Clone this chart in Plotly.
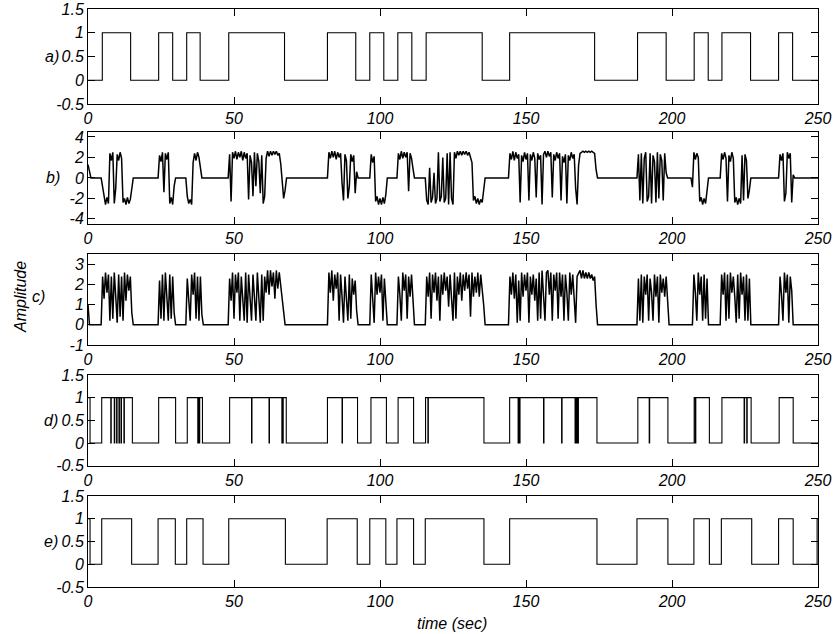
import plotly.graph_objects as go

# ---------------- data ----------------
x_ticks = [0, 50, 100, 150, 200, 250]
x_tick_text = ["0", "50", "100", "150", "200", "250"]

unit_ticks = [-0.5, 0, 0.5, 1, 1.5]
unit_tick_text = ["-0.5", "0", "0.5", "1", "1.5"]
b_ticks = [-4, -2, 0, 2, 4]
b_tick_text = ["-4", "-2", "0", "2", "4"]
c_ticks = [-1, 0, 1, 2, 3]
c_tick_text = ["-1", "0", "1", "2", "3"]

panel_labels = ["a)", "b)", "c)", "d)", "e)"]

# a) binary input: switching times and the level held after each switch
a_times = [0, 4.9, 14.6, 24.2, 29.0, 33.8, 38.4, 48.2, 67.3, 82.0, 91.7, 96.5,
           101.3, 106.1, 110.9, 115.8, 135.0, 144.4, 173.5, 188.2, 198.0, 207.6,
           212.4, 217.1, 226.9, 236.5, 241.3, 250]
a_levels = [0, 1, 0, 1, 0, 1, 0, 1, 0, 1, 0, 1, 0, 1, 0, 1, 0, 1, 0, 1, 0, 1,
            0, 1, 0, 1, 0, 0]

# d) detected sequence (with short glitches)
d_times = [0, 0.7, 4.7, 7.8, 7.95, 9.0, 9.15, 9.8, 9.95, 10.6, 10.75, 11.3, 11.45,
           12.3, 12.45, 15.2, 24.2, 30.0, 34.0, 37.6, 37.75, 38.1, 38.25, 39.2,
           48.5, 56.0, 56.15, 62.0, 62.15, 66.4, 66.55, 66.7, 66.85, 67.9, 82.0,
           87.0, 87.15, 92.3, 96.9, 102.2, 106.2, 111.5, 115.6, 116.4, 116.55,
           135.6, 144.4, 147.3, 147.45, 147.8, 147.95, 156.0, 156.15, 162.2,
           162.35, 166.8, 166.95, 167.3, 167.45, 167.8, 167.95, 174.3, 188.3,
           192.2, 192.35, 198.6, 207.6, 208.0, 208.15, 212.8, 217.1, 224.7,
           224.85, 225.6, 225.75, 227.1, 236.7, 241.5, 250]
d_levels = [1, 0, 1, 0, 1, 0, 1, 0, 1, 0, 1, 0, 1,
            0, 1, 0, 1, 0, 1, 0, 1, 0, 1, 0,
            1, 0, 1, 0, 1, 0, 1, 0, 1, 0, 1,
            0, 1, 0, 1, 0, 1, 0, 1, 0, 1,
            0, 1, 0, 1, 0, 1, 0, 1, 0,
            1, 0, 1, 0, 1, 0, 1, 0, 1,
            0, 1, 0, 1, 0, 1, 0, 1, 0,
            1, 0, 1, 0, 1, 0, 0]

# e) reconstructed sequence
e_times = [0, 0.7, 4.7, 14.95, 24.0, 29.9, 33.8, 39.4, 48.2, 67.6, 81.9, 92.2,
           96.5, 102.0, 105.8, 111.5, 115.5, 135.6, 144.4, 174.3, 188.0, 198.6,
           207.5, 212.8, 216.9, 227.3, 236.5, 241.5, 249.7, 250]
e_levels = [1, 0, 1, 0, 1, 0, 1, 0, 1, 0, 1, 0, 1, 0, 1, 0, 1, 0, 1, 0, 1, 0,
            1, 0, 1, 0, 1, 0, 1, 1]

# b) and c) sampled signals: bursts sampled every 0.5 s, zero in between
sample_step = 0.5

b_starts = [0.0, 4.5, 24.0, 33.5, 48.0, 82.0, 96.5, 105.8, 115.5, 144.0,
            188.0, 206.5, 216.5, 236.5]
b_bursts = [
    [1.3, 0.5, 0.0],
    [0, -0.8, -2.0, -2.6, -1.9, -2.5, 2.4, 1.7, 2.5, -2.5, -1.0, 2.3, 1.7, 2.5,
     1.9, -2.4, -2.0, -2.6, -1.9, -2.5, -2.1, -1.0, 0],
    [0, 2.2, 1.6, 2.5, -1.4, 2.4, 1.8, 2.5, -2.5, -1.9, -2.6, -0.8, 0],
    [0, -1.8, -2.5, -2.1, -2.6, 1.5, 2.4, 1.7, 2.5, 2.0, 1.0, 0],
    [0, 2.3, -2.3, 2.5, 1.9, 2.6, 1.8, 2.5, 2.0, 2.6, 1.7, 2.5, 1.9, 2.4, -2.1,
     2.2, 1.5, -1.8, 2.5, -0.8, 2.4, 1.6, -1.5, 2.2, -2.5, -1.8, 1.9, 2.6, 2.1,
     2.6, 2.2, 2.6, 2.3, 2.6, 2.2, 2.4, 1.4, -0.6, -2.0, -1.2, 0],
    [0, 2.5, 1.9, 2.6, 2.0, 2.6, 1.8, 2.5, 2.0, 2.4, -0.5, -2.2, 2.3, 1.7, -2.0,
     -0.8, 2.3, 1.6, 2.2, -1.5, 0.6, 0],
    [0, 2.3, 1.5, 2.1, -2.3, -1.8, -2.6, -2.0, -2.6, -1.9, -2.5, -1.6, 0],
    [0, 2.4, 1.8, 2.6, 1.9, 2.5, 2.0, 2.5, -1.3, 2.4, 1.9, 0.9, 0],
    [0, -2.2, -2.6, 1.0, -2.4, -1.9, 0.5, -2.5, -2.0, 2.5, -2.3, -1.8, 2.0, -2.4,
     -2.0, 2.4, -2.6, 2.5, -2.0, -2.6, 2.5, 1.9, 2.6, 2.2, 2.6, 2.2, 2.6, 2.3,
     2.6, 2.2, 2.5, 2.1, 1.5, -2.2, -1.8, -2.5, -2.0, -2.6, -2.1, -2.4, -1.0, 0],
    [0, 2.4, 1.8, 2.6, 1.7, 2.5, 1.9, 2.3, -2.4, 2.2, 1.6, 2.5, 1.8, 2.4, -2.2,
     2.3, 1.7, 2.5, 1.9, -1.9, 2.4, 1.8, 2.2, -2.6, 2.3, 2.6, 2.0, 2.6, 2.1, 2.5,
     -1.9, 2.3, 1.7, 2.5, 1.9, 2.4, -2.2, 2.1, 1.5, 2.3, -2.5, 2.2, 1.7, 2.5,
     1.9, 2.3, -1.0, -2.6, 1.2, 2.4, 2.5, 2.6, 2.5, 2.6, 2.5, 2.6, 2.5, 2.6,
     2.5, 2.4, 0.8, 0],
    [0, 2.3, -2.2, 2.4, -2.5, 1.9, 2.5, -2.3, -1.8, 2.4, -2.5, 2.2, 1.6, -2.4,
     2.5, -2.0, 2.3, 1.7, -2.2, 2.4, 0.5, 0],
    [0, -0.9, 2.5, 1.8, 2.4, 2.0, -2.3, -1.9, -2.6, -2.0, -2.5, -1.4, 0],
    [0, 2.4, 1.8, 2.5, 1.9, -2.3, 2.2, 1.6, 2.5, 1.9, -2.4, -1.9, -2.6, -2.0,
     -2.5, 2.2, -2.2, 2.3, 1.7, -2.0, -1.2, 0],
    [0, 2.3, 1.7, 2.4, -2.3, -1.5, 2.5, 1.9, 2.4, -2.4, 0.3, 0],
]

c_starts = [0.0, 4.5, 24.0, 33.5, 48.0, 82.0, 96.5, 105.8, 115.5, 144.0,
            188.0, 207.0, 216.5, 236.5]
c_bursts = [
    [1.0, 0.0],
    [0, 2.4, 1.3, 2.6, 1.6, 2.5, 0.2, 2.4, 0.3, 2.6, 1.4, 0.1, 2.5, 0.4, 2.4,
     0.2, 2.6, 1.2, 2.5, 1.7, 2.4, 0.6, 0],
    [0, 2.2, 0.3, 2.5, 0.2, 2.6, 1.5, 0.2, 2.5, 0.3, 2.4, 0.6, 0],
    [0, 2.3, 1.4, 0.2, 2.5, 1.5, 2.6, 0.3, 2.4, 0.2, 2.4, 0.5, 0],
    [0, 2.3, 1.2, 2.6, 0.3, 2.5, 1.6, 2.6, 0.2, 2.4, 1.3, 0.2, 2.6, 0.1, 2.5,
     1.4, 0.2, 2.5, 1.5, 0.2, 2.6, 1.4, 0.1, 2.5, 0.2, 2.4, 1.6, 2.7, 1.5, 2.7,
     1.9, 2.6, 1.3, 2.7, 1.8, 2.6, 1.9, 1.2, 0.4, 0],
    [0, 2.6, 1.6, 2.7, 1.2, 2.5, 1.8, 2.6, 0.2, 2.5, 1.4, 0.1, 2.4, 1.5, 0.2,
     2.5, 0.3, 2.3, 1.5, 2.2, 0.7, 0],
    [0, 2.5, 1.4, 0.1, 2.6, 1.5, 2.4, 1.6, 2.5, 0.2, 2.3, 0.8, 0],
    [0, 2.4, 1.5, 0.2, 2.6, 1.7, 2.5, 0.3, 2.4, 1.4, 2.5, 0.9, 0],
    [0, 2.4, 1.4, 2.6, 0.3, 2.5, 1.6, 2.6, 1.2, 2.4, 0.2, 2.5, 1.5, 2.6, 1.7,
     2.4, 0.9, 2.5, 1.3, 0.2, 2.6, 0.3, 2.4, 1.5, 2.6, 1.2, 2.5, 1.7, 2.6, 1.8,
     2.5, 0.4, 2.6, 1.4, 2.4, 1.6, 2.6, 1.4, 2.5, 1.8, 1.0, 0],
    [0, 2.4, 1.5, 2.6, 1.3, 2.5, 0.1, 2.2, 0.2, 2.6, 1.4, 2.5, 1.7, 2.6, 0.1,
     2.4, 1.5, 2.5, 1.2, 2.3, 0.2, 2.6, 0.3, 2.7, 1.6, 0.2, 2.6, 2.7, 1.5, 2.6,
     0.2, 2.5, 1.7, 2.6, 0.3, 2.6, 1.4, 2.5, 0.2, 2.5, 1.6, 0.2, 2.6, 1.5, 2.5,
     1.3, 0.1, 2.4, 2.6, 2.7, 2.3, 2.7, 2.3, 2.6, 2.3, 2.6, 2.3, 2.5, 2.2, 2.4,
     1.0, 0],
    [0, 2.3, 0.2, 2.5, 0.1, 2.4, 1.5, 2.5, 0.2, 2.3, 1.6, 0.2, 2.5, 1.4, 2.4,
     0.1, 2.5, 1.6, 2.3, 1.4, 2.4, 0.8, 0],
    [0, 2.5, 1.6, 0.2, 2.6, 1.5, 2.4, 0.2, 2.5, 0.3, 2.3, 0],
    [0, 2.5, 1.5, 2.6, 0.2, 2.5, 0.3, 2.6, 1.6, 2.4, 1.4, 0.1, 2.5, 0.3, 2.6,
     1.5, 2.4, 0.2, 2.5, 0.2, 2.3, 0],
    [0, 2.4, 1.5, 0.2, 2.6, 1.6, 2.5, 0.1, 2.4, 1.7, 0],
]
t_end = 250


def burst_series(starts, bursts):
    xs, ys = [], []
    for start, vals in zip(starts, bursts):
        for i, v in enumerate(vals):
            xs.append(start + i * sample_step)
            ys.append(v)
    xs.append(t_end)
    ys.append(0)
    return xs, ys


b_x, b_y = burst_series(b_starts, b_bursts)
c_x, c_y = burst_series(c_starts, c_bursts)

# ---------------- figure ----------------
FONT = "Liberation Sans, Arial, Helvetica, sans-serif"
tick_font = dict(family=FONT, size=16, color="black", style="italic")

fig = go.Figure()

series = [
    (a_times, a_levels, "hv", 1.1),
    (b_x, b_y, "linear", 1.5),
    (c_x, c_y, "linear", 1.5),
    (d_times, d_levels, "hv", 1.1),
    (e_times, e_levels, "hv", 1.1),
]
for k, (xs, ys, shape, lw) in enumerate(series):
    ax = "" if k == 0 else str(k + 1)
    fig.add_trace(go.Scatter(
        x=xs, y=ys, mode="lines", line=dict(shape=shape, color="black", width=lw),
        xaxis="x" + ax, yaxis="y" + ax, showlegend=False, hoverinfo="skip"))

# panel placement (fractions of the plotting area height)
H = 634
top_m, bot_m = 9, 47
area = H - top_m - bot_m
tops_px = [9.0, 131.8, 254.3, 375.0, 496.0]
bots_px = [104.0, 224.0, 345.0, 465.7, 587.0]
y_ranges = [[-0.5, 1.5], [-4.5, 4.5], [-1, 3.5], [-0.5, 1.5], [-0.5, 1.5]]
y_tickvals = [unit_ticks, b_ticks, c_ticks, unit_ticks, unit_ticks]
y_ticktext = [unit_tick_text, b_tick_text, c_tick_text, unit_tick_text,
              unit_tick_text]

axis_common = dict(showline=True, linecolor="black", linewidth=1, mirror="ticks",
                   ticks="inside", ticklen=7, tickwidth=1, tickcolor="black",
                   showgrid=False, zeroline=False, tickfont=tick_font,
                   automargin=False)

layout = dict(template="none", width=835, height=634, plot_bgcolor="white",
              paper_bgcolor="white",
              margin=dict(l=88, r=17, t=top_m, b=bot_m, autoexpand=False),
              showlegend=False)
for k in range(5):
    ax = "" if k == 0 else str(k + 1)
    d0 = (H - bot_m - bots_px[k]) / area
    d1 = (H - bot_m - tops_px[k]) / area
    layout["xaxis" + ax] = dict(domain=[0, 1], range=[0, 250], tickvals=x_ticks,
                                ticktext=x_tick_text, anchor="y" + ax,
                                **axis_common)
    layout["yaxis" + ax] = dict(domain=[max(0, d0), min(1, d1)], range=y_ranges[k],
                                tickvals=y_tickvals[k], ticktext=y_ticktext[k],
                                anchor="x" + ax, **axis_common)
fig.update_layout(**layout)

# panel tags next to the y tick labels
tag_pos = [(61, 0.5), (62, 0), (47, 1.4), (60, 0.5), (60, 0.5)]
for k, (px, yv) in enumerate(tag_pos):
    ax = "" if k == 0 else str(k + 1)
    fig.add_annotation(text=panel_labels[k], xref="paper", x=(px - 88) / 730,
                       xanchor="right", yref="y" + ax, y=yv, yanchor="middle",
                       showarrow=False, font=tick_font)

fig.add_annotation(text="time (sec)", xref="paper", x=(452 - 88) / 730,
                   xanchor="center", yref="paper", y=(H - bot_m - 623) / area,
                   yanchor="middle", showarrow=False, font=tick_font)
fig.add_annotation(text="Amplitude", xref="paper", x=(20 - 88) / 730,
                   xanchor="center", yref="paper", y=(H - bot_m - 297) / area,
                   yanchor="middle", textangle=-90, showarrow=False,
                   font=tick_font)

fig.write_html("out.html")
